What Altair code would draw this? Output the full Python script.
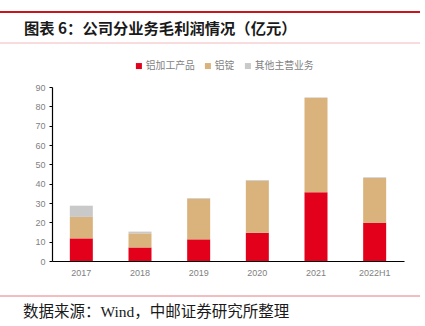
import altair as alt
import pandas as pd

years = ["2017", "2018", "2019", "2020", "2021", "2022H1"]
series = ["铝加工产品", "铝锭", "其他主营业务"]
alu_proc = [11.7, 7.0, 11.2, 14.6, 35.5, 19.8]
alu_ingot = [11.1, 7.3, 21.0, 26.9, 49.0, 23.1]
other = [5.8, 0.9, 0.4, 0.4, 0.2, 0.4]
colors = ["#E2001A", "#D9B27C", "#C9C9C9"]

rows = []
for i, y in enumerate(years):
    for k, (s, vals) in enumerate(zip(series, [alu_proc, alu_ingot, other])):
        rows.append({"year": y, "series": s, "value": vals[i], "ord": k})
df = pd.DataFrame(rows)

W, H = 352, 174

bars = alt.Chart(df).mark_bar(size=23).encode(
    x=alt.X("year:N", sort=years, title=None,
            scale=alt.Scale(paddingInner=0.6, paddingOuter=0.3),
            axis=alt.Axis(labelAngle=0, labelColor="#7f7f7f", labelFontSize=9,
                          labelFont="Liberation Sans", ticks=False, domainColor="#000000",
                          domainWidth=1.2, labelPadding=7)),
    y=alt.Y("value:Q", stack="zero", title=None,
            scale=alt.Scale(domain=[0, 90]),
            axis=alt.Axis(values=list(range(0, 91, 10)), grid=False, labelColor="#7f7f7f",
                          labelFontSize=9, labelFont="Liberation Sans", tickColor="#000000",
                          tickSize=3, domainColor="#000000", domainWidth=1.2, labelPadding=4)),
    color=alt.Color("series:N", sort=series,
                    scale=alt.Scale(domain=series, range=colors),
                    legend=alt.Legend(orient="none", legendX=82, legendY=-26, direction="horizontal",
                                      title=None, symbolType="square", symbolSize=36,
                                      symbolStrokeWidth=0, labelFontSize=9.8, labelColor="#7f7f7f",
                                      labelFont="Noto Sans CJK SC", columnPadding=8,
                                      symbolOffset=0, labelOffset=2)),
    order=alt.Order("ord:Q", sort="ascending"),
)

deco = pd.DataFrame({"d": [0]})
top_red = alt.Chart(deco).mark_rule(color="#C8161D", strokeWidth=2).encode(
    x=alt.value(-52), x2=alt.value(368), y=alt.value(-75))
top_pink = alt.Chart(deco).mark_rule(color="#F2B8BB", strokeWidth=1).encode(
    x=alt.value(-52), x2=alt.value(368), y=alt.value(-44))
bot_red = alt.Chart(deco).mark_rule(color="#E87C80", strokeWidth=1).encode(
    x=alt.value(-52), x2=alt.value(368), y=alt.value(209))
title = alt.Chart(deco).mark_text(
    text="图表 6：公司分业务毛利润情况（亿元）", align="left", baseline="middle",
    font="Noto Sans CJK SC", fontWeight="bold", fontSize=15.3, color="#1a1a1a"
).encode(x=alt.value(-28), y=alt.value(-58))
footer = alt.Chart(deco).mark_text(
    text="数据来源：Wind，中邮证券研究所整理", align="left", baseline="middle",
    font="Liberation Serif, Noto Sans CJK SC", fontSize=15.5, color="#1a1a1a"
).encode(x=alt.value(-29), y=alt.value(225))

chart = alt.layer(bars, top_red, top_pink, bot_red, title, footer).properties(
    width=W, height=H,
    autosize=alt.AutoSizeParams(type="none"),
    padding={"left": 52, "top": 87, "right": 21, "bottom": 65},
    background="white",
).configure_view(stroke=None)

chart.save("out.html", embed_options={"renderer": "svg", "actions": False})
